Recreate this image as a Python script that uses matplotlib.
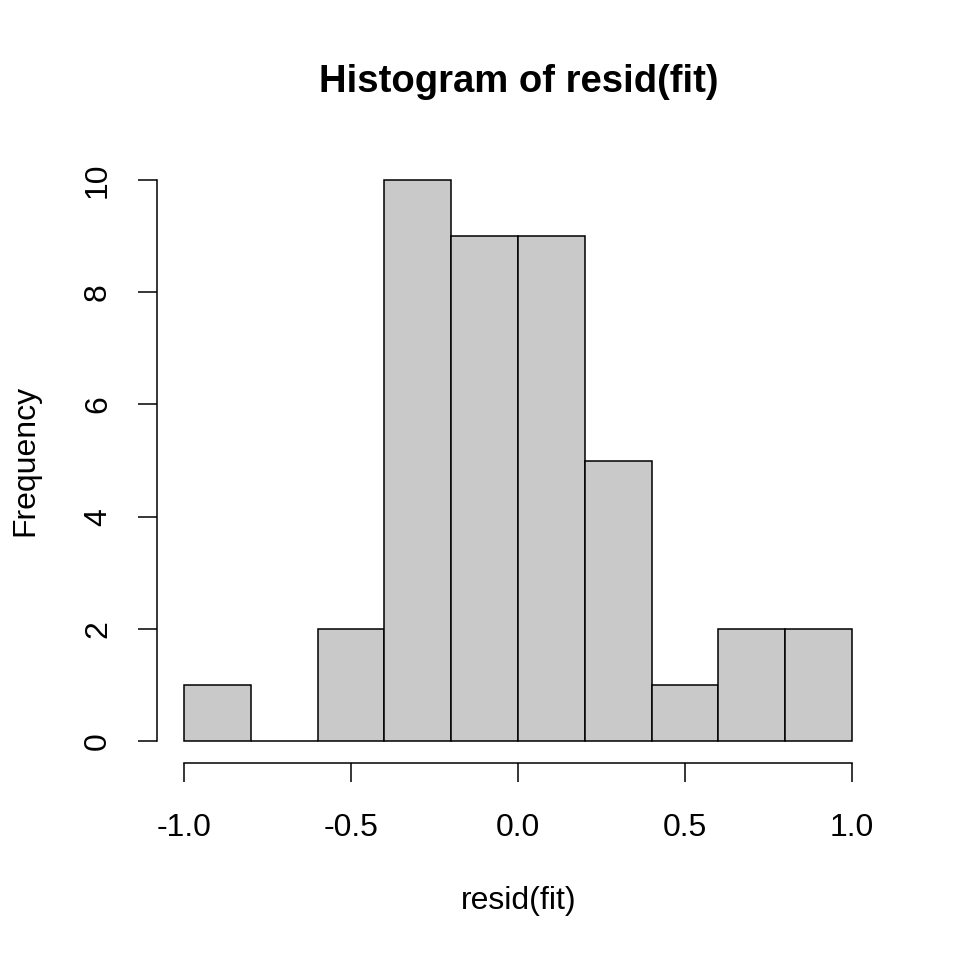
import matplotlib
matplotlib.use("Agg")
import matplotlib.pyplot as plt
import numpy as np

# histogram of residuals: bin edges and counts
bin_edges = [-1.0, -0.8, -0.6, -0.4, -0.2, 0.0, 0.2, 0.4, 0.6, 0.8, 1.0]
counts = [1, 0, 2, 10, 9, 9, 5, 1, 2, 2]
x_ticks = [-1.0, -0.5, 0.0, 0.5, 1.0]
x_ticklabels = ["-1.0", "-0.5", "0.0", "0.5", "1.0"]
y_ticks = [0, 2, 4, 6, 8, 10]

plt.rcParams['font.family'] = ['Liberation Sans', 'DejaVu Sans']

fig = plt.figure(figsize=(9.6, 9.6), dpi=100)
ax = fig.add_axes([0.1639, 0.2048, 0.7515, 0.631])

edges = np.array(bin_edges)
ax.bar(edges[:-1], counts, width=np.diff(edges), align='edge',
       facecolor='#C9C9C9', edgecolor='black', linewidth=1.1)

ax.set_xlim(-1.08, 1.08)
ax.set_ylim(-0.4, 10.4)

for side in ('top', 'right'):
    ax.spines[side].set_visible(False)
ax.spines['left'].set_bounds(0, 10)
ax.spines['bottom'].set_bounds(-1.0, 1.0)
for s in ('left', 'bottom'):
    ax.spines[s].set_linewidth(1.1)

ax.set_xticks(x_ticks)
ax.set_xticklabels(x_ticklabels)
ax.set_yticks(y_ticks)
ax.set_yticklabels([str(v) for v in y_ticks], rotation=90, va='center')
ax.tick_params(axis='both', direction='out', length=14, width=1.1,
               labelsize=23)
ax.tick_params(axis='x', pad=22)
ax.tick_params(axis='y', pad=18)

fig.text(0.54, 0.915, "Histogram of resid(fit)", ha='center', va='center',
         fontsize=27.5, fontweight='bold')
fig.text(0.54, 0.0615, "resid(fit)", ha='center', va='center', fontsize=23)
fig.text(0.026, 0.52, "Frequency", ha='center', va='center', fontsize=23,
         rotation=90)

fig.savefig("out.png", dpi=100)
plt.close(fig)
